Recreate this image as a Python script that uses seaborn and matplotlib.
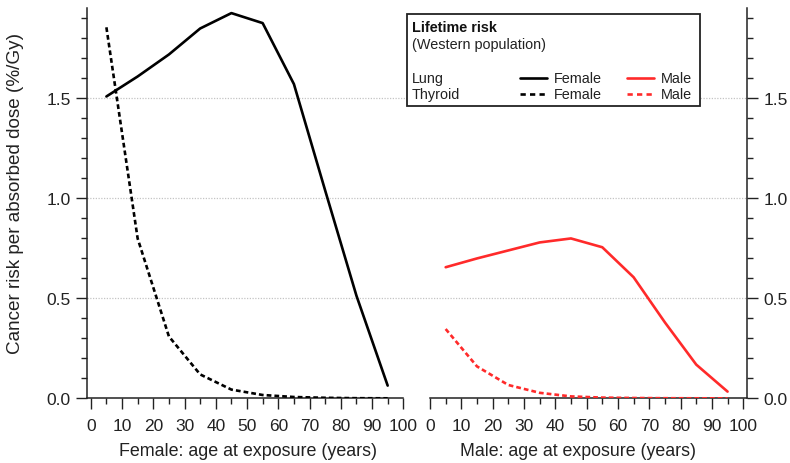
import numpy as np
import pandas as pd
import matplotlib
matplotlib.use("Agg")
import matplotlib.pyplot as plt
from matplotlib.lines import Line2D
from matplotlib.patches import Rectangle
from matplotlib.ticker import MultipleLocator
import seaborn as sns

# ---------------- data ----------------
ages = [5, 15, 25, 35, 45, 55, 65, 75, 85, 95]
lung_female = [1.51, 1.61, 1.72, 1.85, 1.927, 1.877, 1.572, 1.04, 0.514, 0.064]
thyroid_female = [1.856, 0.80, 0.31, 0.12, 0.044, 0.017, 0.007, 0.003, 0.001, 0.0005]
lung_male = [0.656, 0.70, 0.74, 0.78, 0.80, 0.756, 0.606, 0.38, 0.169, 0.034]
thyroid_male = [0.347, 0.16, 0.067, 0.028, 0.01, 0.004, 0.002, 0.001, 0.0005, 0.0003]
x_ticks = [0, 10, 20, 30, 40, 50, 60, 70, 80, 90, 100]
y_ticks = [0.0, 0.5, 1.0, 1.5]

sns.set_style("ticks")
plt.rcParams["font.family"] = ["Liberation Sans", "DejaVu Sans"]

W, H = 790, 464
fig = plt.figure(figsize=(W / 100, H / 100), dpi=100)


def fx(px):
    return px / W


def fy(py):
    return 1 - py / H


ax_l, ax_r = 86.7, 403.3
bx_l, bx_r = 430.0, 747.3
y_top, y_bot = 9.3, 399.4
ax1 = fig.add_axes([fx(ax_l), fy(y_bot), fx(ax_r - ax_l), (y_bot - y_top) / H])
ax2 = fig.add_axes([fx(bx_l), fy(y_bot), fx(bx_r - bx_l), (y_bot - y_top) / H])

BLACK = "#000000"
RED = "#ff2a2a"
TXT = "#222222"
LW = 1.9
dash = (0, (1.8, 1.15))

df_f = pd.DataFrame({"age": ages, "lung": lung_female, "thyroid": thyroid_female})
df_m = pd.DataFrame({"age": ages, "lung": lung_male, "thyroid": thyroid_male})

sns.lineplot(data=df_f, x="age", y="lung", ax=ax1, color=BLACK, lw=LW, zorder=3)
sns.lineplot(data=df_f, x="age", y="thyroid", ax=ax1, color=BLACK, lw=LW,
             linestyle=dash, zorder=3)
sns.lineplot(data=df_m, x="age", y="lung", ax=ax2, color=RED, lw=LW, zorder=3)
sns.lineplot(data=df_m, x="age", y="thyroid", ax=ax2, color=RED, lw=LW,
             linestyle=dash, zorder=3)

ymax = (399.5 - 9.3) / 200
ax1.set_xlim(-1.3, 100)
ax2.set_xlim(0, 101.3)
for ax in (ax1, ax2):
    ax.set_ylim(0, ymax)
    ax.set_xticks(x_ticks)
    ax.set_xticklabels([str(t) for t in x_ticks])
    ax.xaxis.set_minor_locator(MultipleLocator(5))
    ax.set_yticks(y_ticks)
    ax.set_yticklabels([f"{t:.1f}" for t in y_ticks])
    ax.yaxis.set_minor_locator(MultipleLocator(0.1))
    ax.tick_params(which="major", direction="out", length=8, width=1.0,
                   labelsize=12.5, color=TXT, labelcolor=TXT)
    ax.tick_params(which="minor", direction="out", length=4.5, width=1.0,
                   color=TXT)
    ax.tick_params(axis="x", which="major", pad=6)
    ax.tick_params(axis="y", which="major", pad=3.5)
    ax.spines["top"].set_visible(False)
    for s in ax.spines.values():
        s.set_linewidth(1.1)
        s.set_color(TXT)
    ax.set_facecolor("none")

ax1.spines["right"].set_visible(False)
ax2.spines["left"].set_visible(False)
ax2.yaxis.tick_right()
ax2.tick_params(axis="y", which="both", left=False, right=True)

# dotted horizontal grid across both panels
span = (bx_r - ax_l) / (ax_r - ax_l)
for yv in y_ticks[1:]:
    ax1.axhline(yv, xmin=0, xmax=span, color="#c4c4c4", lw=0.9,
                linestyle=(0, (1, 1.2)), clip_on=False, zorder=1)

ax1.set_ylabel("Cancer risk per absorbed dose (%/Gy)", fontsize=12, color=TXT)
ax1.yaxis.set_label_coords((15 - ax_l) / (ax_r - ax_l), (y_bot - 193.5) / (y_bot - y_top))
ax1.yaxis.label.set_va("center")
ax1.set_xlabel("Female: age at exposure (years)", fontsize=12, color=TXT)
ax1.xaxis.set_label_coords(0.509, (y_bot - 451.7) / (y_bot - y_top))
ax1.xaxis.label.set_va("center")
ax2.set_xlabel("Male: age at exposure (years)", fontsize=12, color=TXT)
ax2.xaxis.set_label_coords(0.4655, (y_bot - 451.7) / (y_bot - y_top))
ax2.xaxis.label.set_va("center")
ax2.set_ylabel("")

# ---------------- legend (drawn by hand) ----------------
tf = fig.transFigure
fig.patches.append(Rectangle((fx(407), fy(107)), fx(700 - 407), (107 - 15) / H,
                             transform=tf, fill=True, facecolor="white",
                             edgecolor=TXT, lw=1.3, zorder=5))
fs = 10.4
t_title = fig.text(fx(412), fy(28), "Lifetime risk", fontsize=fs, fontweight="bold",
                   va="center", ha="left", color="#111111", zorder=6)
t_sub = fig.text(fx(412), fy(45), "(Western population)", fontsize=fs,
                 va="center", ha="left", color=TXT, zorder=6)
rows = [("Lung", "-", 79), ("Thyroid", (0, (2.0, 1.6)), 95)]
legend_texts = []
for name, ls, yy in rows:
    legend_texts.append(fig.text(fx(412), fy(yy), name, fontsize=fs, va="center",
                                 ha="left", color=TXT, zorder=6))
    fig.lines.append(Line2D([fx(520), fx(547)], [fy(yy), fy(yy)], transform=tf,
                            color=BLACK, lw=LW, linestyle=ls, zorder=6))
    legend_texts.append(fig.text(fx(554), fy(yy), "Female", fontsize=fs, va="center",
                                 ha="left", color=TXT, zorder=6))
    fig.lines.append(Line2D([fx(627), fx(654)], [fy(yy), fy(yy)], transform=tf,
                            color=RED, lw=LW, linestyle=ls, zorder=6))
    legend_texts.append(fig.text(fx(661), fy(yy), "Male", fontsize=fs, va="center",
                                 ha="left", color=TXT, zorder=6))

# ---------- fit text sizes to the reference's measured extents ----------
renderer = fig.canvas.get_renderer()


def fit(text, target_px, horizontal=True):
    bb = text.get_window_extent(renderer=renderer)
    cur = bb.width if horizontal else bb.height
    if cur > 0:
        text.set_fontsize(text.get_fontsize() * target_px / cur)


fit(ax1.xaxis.label, 260)
fit(ax2.xaxis.label, 236.7)
fit(ax1.yaxis.label, 323, horizontal=False)
fit(t_sub, 134)
new_fs = t_sub.get_fontsize()
t_title.set_fontsize(new_fs)
for t in legend_texts:
    t.set_fontsize(new_fs)

fig.savefig("out.png", dpi=100)
